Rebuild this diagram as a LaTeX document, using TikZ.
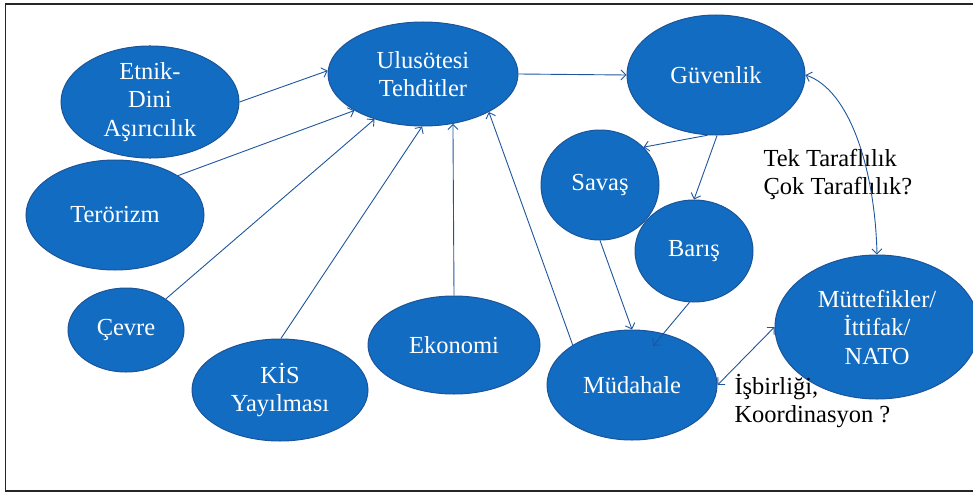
\documentclass[tikz,border=0pt]{standalone}
\usepackage{fontspec}
\setmainfont{Liberation Serif}
\usetikzlibrary{shapes.geometric,arrows.meta}
\definecolor{efill}{RGB}{18,108,194}
\definecolor{edraw}{RGB}{28,84,152}
\definecolor{eline}{RGB}{30,86,158}
\begin{document}
\begin{tikzpicture}[x=1pt,y=-1pt,
  bub/.style={ellipse,fill=efill,draw=edraw,line width=1pt,inner sep=0pt,
    text=white,align=center,font=\fontsize{24.5}{28.5}\selectfont},
  conn/.style={eline,line width=0.9pt,-{Straight Barb[length=5pt,width=10pt]}},
  conn2/.style={eline,line width=0.9pt,{Straight Barb[length=5pt,width=10pt]}-{Straight Barb[length=5pt,width=10pt]}},
  lab/.style={anchor=west,align=left,text=black,font=\fontsize{24.5}{28}\selectfont}]
\useasboundingbox (0,0) rectangle (973,495);
\clip (0,0) rectangle (973,495);
\draw[line width=1.8pt,black!85] (5.5,4) rectangle (995,491);

\node[bub,minimum width=178pt,minimum height=108pt] (etn) at (150,102) {Etnik-\\Dini\\Aşırıcılık};
\node[bub,minimum width=178pt,minimum height=110pt] (ter) at (115,215) {Terörizm};
\node[bub,minimum width=190pt,minimum height=104pt] (ulu) at (423,74) {Ulusötesi\\Tehditler};
\node[bub,minimum width=178pt,minimum height=120pt] (guv) at (716,75) {Güvenlik};
\node[bub,minimum width=118pt,minimum height=110pt] (sav) at (600,185) {Savaş};
\node[bub,minimum width=118pt,minimum height=102pt] (bar) at (694,251) {Barış};
\node[bub,minimum width=116pt,minimum height=84pt] (cev) at (126,330) {Çevre};
\node[bub,minimum width=176pt,minimum height=102pt] (kis) at (280,390) {KİS\\Yayılması};
\node[bub,minimum width=172pt,minimum height=98pt] (eko) at (454,345) {Ekonomi};
\node[bub,minimum width=170pt,minimum height=110pt] (mud) at (632,385) {Müdahale};
\node[bub,minimum width=204pt,minimum height=144pt] (mut) at (877,327) {Müttefikler/\\İttifak/\\NATO};

\node[lab] (tek) at (760,174) {Tek Taraflılık\\Çok Taraflılık?};
\node[lab] (isb) at (731,401) {İşbirliği,\\Koordinasyon ?};

\coordinate (bm) at (653,346);

\draw[conn] (etn.east) -- (ulu.178);
\draw[conn] (ter.32) -- (ulu.208);
\draw[conn] (cev.38) -- (ulu.223);
\draw[conn] (kis.89) -- (ulu.269);
\draw[conn] (eko.north) -- (ulu.301);
\draw[conn] (mud.146) -- (ulu.330);
\draw[conn] (ulu.east) -- (guv.west);
\draw[conn] (guv.262) -- (sav.41);
\draw[conn] (guv.271) -- (bar.north);
\draw[conn] (sav.south) -- (mud.north);
\draw[conn] (bar.265) -- (bm);
\draw[conn2] (guv.east) .. controls (850,90) and (875,170) .. (mut.north);
\draw[conn2] (mud.east) -- (mut.west);
\end{tikzpicture}
\end{document}
